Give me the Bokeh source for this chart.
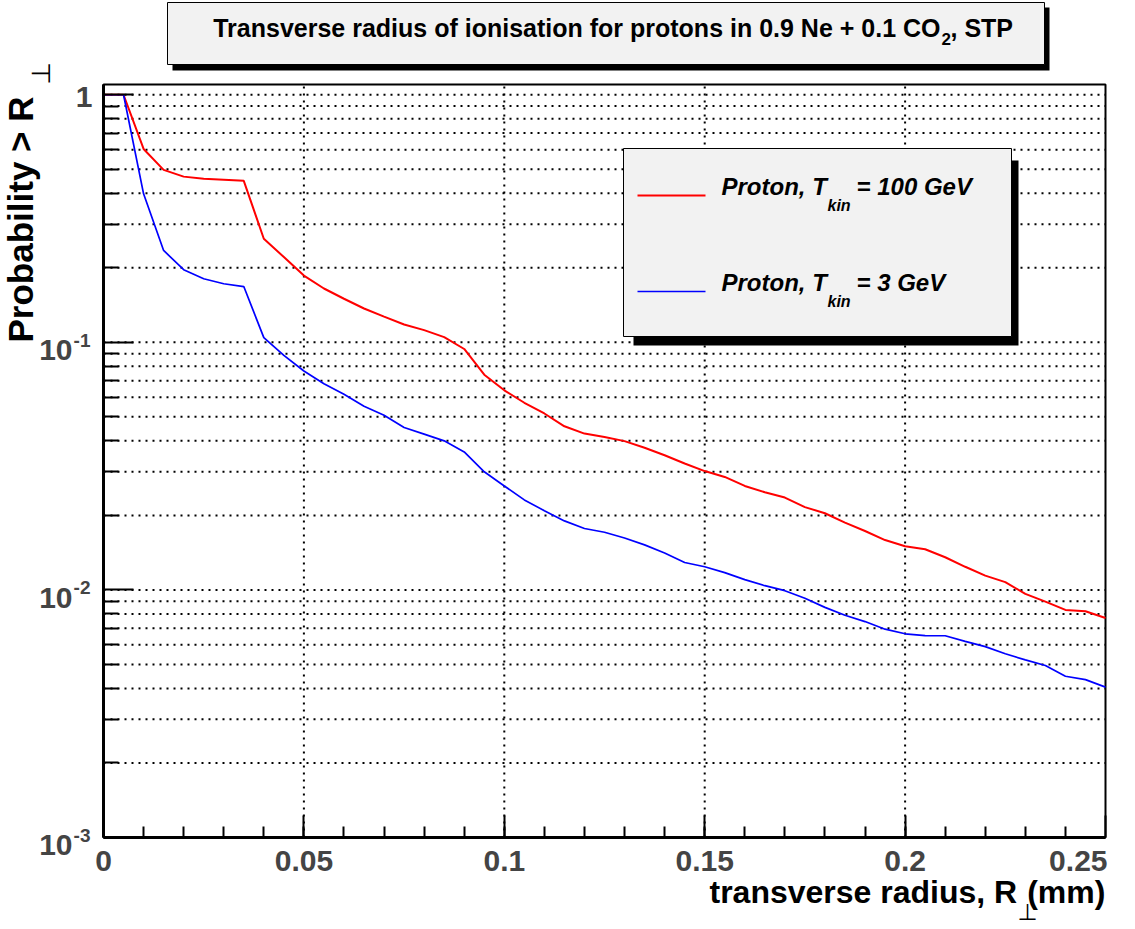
from bokeh.plotting import figure
from bokeh.models import Range1d, FixedTicker, Label, BoxAnnotation
from bokeh.embed import file_html
from bokeh.resources import INLINE
import math

# ---------------- data ----------------
radius_mm = [0.000, 0.005, 0.010, 0.015, 0.020, 0.025, 0.030, 0.035, 0.040, 0.045,
             0.050, 0.055, 0.060, 0.065, 0.070, 0.075, 0.080, 0.085, 0.090, 0.095,
             0.100, 0.105, 0.110, 0.115, 0.120, 0.125, 0.130, 0.135, 0.140, 0.145,
             0.150, 0.155, 0.160, 0.165, 0.170, 0.175, 0.180, 0.185, 0.190, 0.195,
             0.200, 0.205, 0.210, 0.215, 0.220, 0.225, 0.230, 0.235, 0.240, 0.245,
             0.250]

prob_100GeV = [1.0, 1.0, 0.604, 0.497, 0.467, 0.458, 0.454, 0.449, 0.262, 0.221,
               0.186, 0.165, 0.150, 0.137, 0.127, 0.118, 0.112, 0.105, 0.094, 0.074,
               0.064, 0.057, 0.0516, 0.0458, 0.0428, 0.0415, 0.0399, 0.0375, 0.035, 0.0324,
               0.0302, 0.0286, 0.0263, 0.0248, 0.0236, 0.0216, 0.0204, 0.0187, 0.0173, 0.0159,
               0.0150, 0.0146, 0.01355, 0.0124, 0.01142, 0.01075, 0.00964, 0.00897, 0.0083, 0.0082,
               0.0077]

prob_3GeV = [1.0, 1.0, 0.398, 0.235, 0.1965, 0.1806, 0.1724, 0.168, 0.1045, 0.0886,
             0.0766, 0.068, 0.0617, 0.0552, 0.0508, 0.0453, 0.0426, 0.040, 0.0361, 0.030,
             0.0263, 0.0231, 0.0209, 0.0190, 0.0177, 0.0171, 0.0162, 0.0152, 0.0141, 0.0129,
             0.0124, 0.01175, 0.0110, 0.0104, 0.00993, 0.00925, 0.0085, 0.0079, 0.00745, 0.00694,
             0.00665, 0.00654, 0.00653, 0.0062, 0.0059, 0.00552, 0.00522, 0.00495, 0.00448, 0.00434,
             0.00405]

xtick_values = [0.0, 0.05, 0.1, 0.15, 0.2, 0.25]
xtick_labels = ["0", "0.05", "0.1", "0.15", "0.2", "0.25"]
ytick_values = [1.0, 0.1, 0.01, 0.001]
ytick_mantissa = ["1", "10", "10", "10"]
ytick_exponent = ["", "-1", "-2", "-3"]

title_main = "Transverse radius of ionisation for protons in 0.9 Ne + 0.1 CO"
title_sub = "2"
title_tail = ", STP"
xtitle_main = "transverse radius, R"
xtitle_tail = "(mm)"
ytitle_main = "Probability > R"
perp = "\u22a5"
legend_prefix = "Proton, T"
legend_sub = "kin"
legend_suffix = ["= 100 GeV", "= 3 GeV"]
series = [prob_100GeV, prob_3GeV]
series_colors = ["#ff0000", "#0000ff"]
series_widths = [2.0, 1.7]

FONT = "Liberation Sans"
SYMFONT = "DejaVu Sans"
BL = 0.38   # baseline correction (fraction of font size) for the SVG text placement

# ---------------- layout ----------------
W, H = 1135, 929
X0, X1 = 0.0, 0.25          # plotted x interval
Y0, Y1 = 0.001, 1.1         # plotted y interval
PX_L, PX_R = 103, 1105      # pixel columns of X0, X1
PX_T, PX_B = 84, 837        # pixel rows of Y1, Y0

kx = (X1 - X0) / (PX_R - PX_L)
x_start = X0 - PX_L * kx
x_end = X1 + (W - PX_R) * kx
ly0, ly1 = math.log10(Y0), math.log10(Y1)
ky = (ly1 - ly0) / (PX_B - PX_T)
y_start = 10 ** (ly0 - (H - PX_B) * ky)
y_end = 10 ** (ly1 + PX_T * ky)

p = figure(width=W, height=H, min_border=0, min_border_left=0, min_border_right=0,
           min_border_top=0, min_border_bottom=0,
           x_range=Range1d(x_start, x_end), y_range=Range1d(y_start, y_end),
           y_axis_type="log", output_backend="svg", toolbar_location=None,
           title=None)
p.background_fill_color = "white"
p.border_fill_color = "white"
p.outline_line_color = None
p.xgrid.visible = False
p.ygrid.visible = False

x_minor = [round(0.01 * k, 3) for k in range(1, 25)]
y_minor = [m * 10.0 ** e for e in (-3, -2, -1) for m in range(2, 10)]

p.xaxis.ticker = FixedTicker(ticks=xtick_values, minor_ticks=x_minor)
p.yaxis.ticker = FixedTicker(ticks=ytick_values, minor_ticks=y_minor)
p.xaxis.fixed_location = Y0
p.yaxis.fixed_location = X0
p.xaxis.bounds = (X0, X1)
p.yaxis.bounds = (Y0, Y1)
for ax in (p.xaxis, p.yaxis):
    ax.axis_line_width = 3
    ax.axis_line_color = "black"
    ax.major_tick_out = 0
    ax.minor_tick_out = 0
    ax.major_tick_line_width = 2
    ax.minor_tick_line_width = 2
    ax.major_tick_line_color = "black"
    ax.minor_tick_line_color = "black"
    ax.major_label_text_color = None
    ax.major_label_text_font_size = "1px"
p.xaxis.major_tick_in = 22
p.xaxis.minor_tick_in = 11
p.yaxis.major_tick_in = 30
p.yaxis.minor_tick_in = 15

# dotted grid, drawn from the tick values
gx = xtick_values[1:-1]
p.segment(x0=gx, y0=[Y0] * len(gx), x1=gx, y1=[Y1] * len(gx),
          line_color="black", line_width=2, line_dash="2 5")
gy = ytick_values[:-1] + y_minor
p.segment(x0=[X0] * len(gy), y0=gy, x1=[X1] * len(gy), y1=gy,
          line_color="black", line_width=2, line_dash="2 5")

# frame box
p.quad(left=[X0], right=[X1], bottom=[Y0], top=[Y1], fill_color=None,
       line_color="black", line_width=2)

for ys, col, lw in zip(series, series_colors, series_widths):
    p.line(radius_mm, ys, line_color=col, line_width=lw)


def screen_label(fx, fy, text, size, style="bold", align="left", angle=0.0, font=FONT):
    """fx, fy: pixel position of the text's baseline anchor (top-left origin)."""
    if angle == 0.0:
        fy = fy - BL * size
    else:
        fx = fx - BL * size
    return Label(x=fx, y=H - fy, x_units="screen", y_units="screen", text=text,
                 text_font=font, text_font_size=f"{size}px", text_font_style=style,
                 text_color="black", text_align=align, text_baseline="alphabetic",
                 angle=angle)


def data_label(x, y, text, size, dx, dy, align):
    """dx, dy: pixel offset of the baseline anchor (dy positive = downward)."""
    return Label(x=x, y=y, x_units="data", y_units="data", text=text,
                 x_offset=dx, y_offset=-dy + BL * size, text_font=FONT,
                 text_font_size=f"{size}px", text_font_style="bold",
                 text_align=align, text_baseline="alphabetic")


def screen_box(l, t, r, b, fill, line=None):
    return BoxAnnotation(left=l, right=r, top=H - t, bottom=H - b,
                         left_units="screen", right_units="screen",
                         top_units="screen", bottom_units="screen",
                         fill_color=fill, fill_alpha=1.0,
                         line_color=line if line else "black",
                         line_alpha=1.0 if line else 0.0,
                         line_width=1, line_dash="solid")


# x tick labels
for i, (v, t) in enumerate(zip(xtick_values, xtick_labels)):
    last = i == len(xtick_values) - 1
    p.add_layout(data_label(v, Y0, t, 30, 2 if last else 0, 35,
                            "right" if last else "center"))

# y tick labels
for v, m, e in zip(ytick_values, ytick_mantissa, ytick_exponent):
    if e:
        p.add_layout(data_label(X0, v, m, 30, -31, 19, "right"))
        p.add_layout(data_label(X0, v, e, 19, -13, 5, "right"))
    else:
        p.add_layout(data_label(X0, v, m, 30, -11, 14, "right"))

# title box with shadow
p.add_layout(screen_box(172, 7, 1049, 70, "black"))
p.add_layout(screen_box(167, 2, 1044, 64, "#f2f2f2", "black"))
p.add_layout(screen_label(940, 36.5, title_main, 25, align="right"))
p.add_layout(screen_label(941, 45, title_sub, 17))
p.add_layout(screen_label(950, 36.5, title_tail, 25))

# legend box with shadow
p.add_layout(screen_box(633, 160, 1018, 345, "black"))
p.add_layout(screen_box(623, 148, 1011, 336, "#f2f2f2", "black"))
for k, (suffix, col, lw) in enumerate(zip(legend_suffix, series_colors, series_widths)):
    base = 195 + 96 * k
    p.add_layout(screen_box(637, base - lw / 2, 705, base + lw / 2, col))
    p.add_layout(screen_label(721, base, legend_prefix, 24, style="bold italic"))
    p.add_layout(screen_label(827, base + 16, legend_sub, 16, style="bold italic"))
    p.add_layout(screen_label(856, base, suffix, 24, style="bold italic"))

# axis titles
p.add_layout(screen_label(1016.7, 904, xtitle_main, 32, align="right"))
p.add_layout(screen_label(1017, 920, perp, 23, style="normal", font=SYMFONT))
p.add_layout(screen_label(1026.7, 904, xtitle_tail, 32))

p.add_layout(screen_label(33, 342, ytitle_main, 35, angle=math.pi / 2))
p.add_layout(screen_label(50, 84, perp, 26, style="normal", angle=math.pi / 2, font=SYMFONT))

open("out.html", "w").write(file_html(p, INLINE))
